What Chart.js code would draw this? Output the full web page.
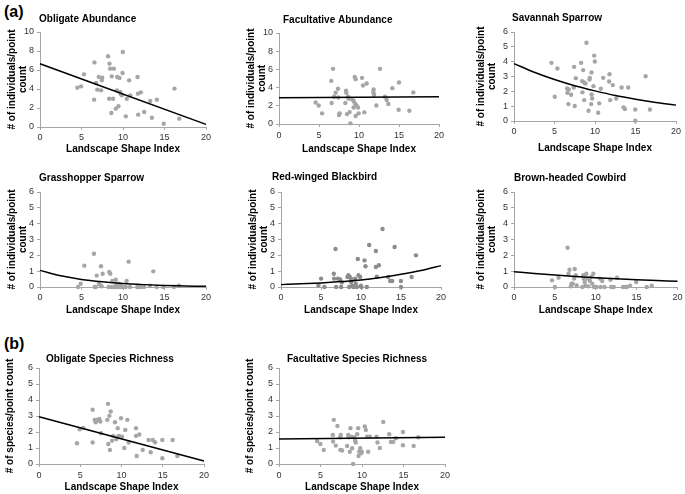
<!DOCTYPE html>
<html>
<head>
<meta charset="utf-8">
<script src="https://cdn.jsdelivr.net/npm/chart.js@4.4.1/dist/chart.umd.min.js"></script>
<style>
  body { margin: 0; background: #fff; }
  #wrap { position: relative; width: 685px; height: 494px; overflow: hidden; font-family: "Liberation Sans", Arial, sans-serif; }
  .panel { position: absolute; }
  .tag { position: absolute; font-weight: bold; font-size: 16px; line-height: 16px; }
</style>
</head>
<body>
<div id="wrap">
  <div class="tag" style="left:4px;top:4px">(a)</div>
  <div class="tag" style="left:4px;top:336px">(b)</div>
</div>
<script>
// landscape shape index (x) and counts (y)
const oblAbundX = [4.5,4.95,5.3,6.56,6.52,6.76,6.9,7.08,7.36,7.45,7.5,8.2,8.37,8.45,8.9,8.65,8.33,8.6,8.8,9.13,9.26,9.3,9.45,9.58,9.66,9.74,9.86,9.94,9.98,10.34,10.46,10.74,10.87,11.75,11.8,11.83,12.15,12.55,13.28,13.48,14.08,14.9,16.2,16.78];
const oblAbundY = [4.14,4.28,5.54,6.8,2.88,4.63,3.93,5.26,3.86,4.91,5.19,7.44,6.67,6.14,6.14,5.33,2.98,1.47,2.98,1.93,3.86,5.26,2.18,5.16,3.68,3.44,3.33,5.68,7.9,1.12,2.98,4.91,3.33,5.26,3.51,1.3,3.65,1.58,2.74,0.98,2.88,0.35,4.04,0.88];

const facAbundX = [4.58,4.96,5.38,6.54,6.75,6.58,6.88,7.08,7.38,7.42,7.5,7.58,8.38,8.42,8.29,8.5,8.63,8.71,8.83,8.92,9.17,9.33,9.33,9.46,9.58,9.5,9.67,9.58,9.88,9.96,10.38,10.5,10.67,10.96,11.83,11.79,11.88,12.17,12.63,13.25,13.46,13.67,14.17,15.0,14.96,16.29,16.79];
const facAbundY = [2.37,2.04,1.17,4.74,6.06,2.3,2.99,3.43,3.87,2.92,0.99,1.17,3.65,3.43,2.3,1.09,2.99,2.77,1.31,0.07,2.7,2.52,1.82,5.18,4.93,2.26,2.04,0.88,1.82,1.17,5.07,4.23,1.28,4.45,3.8,3.5,3.21,2.04,6.06,2.99,2.63,2.19,3.94,4.56,1.57,1.46,3.47];

const savSparrowX = [4.62,5.03,5.36,6.56,6.6,6.76,6.72,7.05,7.42,7.38,7.5,7.63,8.29,8.45,8.54,8.41,8.66,8.66,8.82,8.95,9.2,9.32,9.36,9.57,9.53,9.57,9.65,9.9,9.98,9.81,10.39,10.52,10.72,11.01,11.79,11.75,11.88,12.2,12.62,13.28,13.53,13.69,14.1,14.97,14.97,16.25,16.78];
const savSparrowY = [3.92,1.63,3.54,2.19,1.9,2.13,1.14,1.77,3.65,2.26,1.01,2.89,3.92,1.93,3.43,2.69,2.6,1.41,2.53,5.28,0.69,2.8,2.91,3.27,1.14,1.79,1.52,4.41,4.01,2.35,0.56,1.19,2.17,2.91,3.16,2.66,1.41,2.42,1.52,2.26,0.92,0.81,2.26,0.78,0.02,3.02,0.78];

const grassSparrowX = [4.58,4.9,5.34,6.5,6.6,6.7,6.83,7.1,7.3,7.35,7.43,7.55,8.27,8.35,8.47,8.63,8.71,8.84,9.04,9.12,9.24,9.32,9.48,9.64,9.72,9.88,10.04,10.32,10.44,10.68,10.84,11.73,11.85,12.13,12.53,13.25,13.65,14.06,14.86,16.14,16.75];
const grassSparrowY = [0,0.21,1.35,2.1,0,0,0.72,0.21,0.1,1.31,0.04,0.84,0,0.95,0.84,0,0.38,0,0,0.46,0.17,0,0.21,0,0.08,0,0,0,0.38,1.6,0,0,0,0,0,0.08,0.99,0,0,0,0.08];

const rwBlackbirdX = [4.68,5.01,5.43,6.6,6.81,6.64,6.89,7.1,7.39,7.52,7.6,8.31,8.43,8.52,8.6,8.73,8.89,8.77,9.06,9.27,9.35,9.48,9.6,9.69,9.9,9.98,10.06,10.44,10.56,10.73,11.02,11.86,11.86,11.98,12.23,12.69,13.4,13.65,13.9,14.2,14.99,14.99,16.33,16.87];
const rwBlackbirdY = [0.1,0.53,0,0.84,2.4,0.53,0,0.53,0.48,0,0.29,0.63,0.74,0,0.63,0.53,0.08,0.32,0,0.53,0.21,0,1.77,0.74,0.63,0.08,0,1.68,1.31,0,2.65,2.27,1.26,0.65,1.37,3.66,0.63,0.38,0.38,2.53,0.38,0,0.63,2.0];

const bhCowbirdX = [4.65,5.0,5.45,6.55,6.67,6.79,6.95,7.03,7.19,7.43,7.35,7.56,7.68,8.36,8.48,8.53,8.65,8.73,8.85,8.97,9.09,9.29,9.45,9.58,9.7,9.78,9.98,10.1,10.5,10.59,10.79,11.07,11.8,11.9,12.2,12.6,13.33,13.6,13.8,14.2,14.95,16.24,16.85];
const bhCowbirdY = [0.42,0,0.59,2.48,0.84,1.09,0.04,0.21,0.21,1.14,0.53,0.74,0.1,0,0.74,0.53,0.32,0.08,0.84,0.53,0.04,0.38,0.63,0.21,0.84,0,0,0,0.53,0,0.38,0,0.46,0,0,0.59,0,0,0,0.08,0.32,0,0.08];

const oblRichX = [4.6,4.93,5.37,6.5,6.5,6.75,6.87,7.03,7.31,7.43,7.52,8.28,8.36,8.53,8.69,8.4,8.6,8.85,9.01,9.21,9.37,9.54,9.58,9.7,9.94,10.06,10.34,10.46,10.71,10.87,11.76,11.76,11.84,12.16,12.57,13.29,13.54,13.78,14.06,14.95,14.95,16.2,16.77];
const oblRichY = [1.3,2.17,2.26,3.39,1.34,2.76,2.61,2.76,2.82,2.66,1.92,2.76,3.76,3.01,3.28,1.25,0.88,1.46,1.76,2.61,1.55,2.24,1.71,1.76,2.86,1.71,1.0,2.13,2.76,1.34,2.24,1.76,0.5,1.84,0.88,1.5,0.73,1.5,1.36,1.5,0.36,1.5,0.5];

const facRichX = [4.59,4.99,5.39,6.6,6.48,6.52,6.84,7.04,7.36,7.44,7.4,7.6,8.21,8.33,8.41,8.53,8.61,8.69,8.81,8.93,9.05,9.17,9.25,9.42,9.54,9.58,9.66,9.78,9.9,9.98,10.34,10.46,10.62,10.74,10.95,11.75,11.87,12.15,12.56,13.28,13.48,13.76,14.08,14.93,14.93,16.22,16.78];
const facRichY = [1.44,1.25,0.88,2.76,1.82,1.4,1.15,2.38,1.67,1.82,0.88,0.84,1.13,1.82,1.67,0.77,2.24,1.71,0.98,0,1.67,1.46,1.34,1.86,2.24,0.5,0.77,0.98,0.67,0.77,2.34,2.13,1.71,0.77,1.71,1.71,1.34,1.0,2.63,1.86,1.38,1.38,1.61,2.0,1.17,1.13,1.67];

// fitted trend lines
const lineX = [0, 20];
const oblAbundFit = [6.65, 0.28];
const facAbundFit = [2.88, 3.0];
const oblRichFit = [2.95, 0.19];
const facRichFit = [1.57, 1.67];

const curveX = [0, 2.5, 5, 7.5, 10, 12.5, 15, 17.5, 20];
const savSparrowFit = [3.87, 3.29, 2.8, 2.38, 2.03, 1.72, 1.47, 1.25, 1.07];
const grassSparrowFit = [1.05, 0.71, 0.48, 0.33, 0.22, 0.15, 0.10, 0.07, 0.04];
const rwBlackbirdFit = [0.15, 0.2, 0.26, 0.34, 0.44, 0.6, 0.8, 1.04, 1.35];
const bhCowbirdFit = [0.97, 0.86, 0.76, 0.67, 0.59, 0.52, 0.46, 0.41, 0.36];

const xTitle = 'Landscape Shape Index';
const indivTitle = ['# of individuals/point', 'count'];
const speciesTitle = '# of species/point count';

const FONT = '"Liberation Sans", Arial, sans-serif';
const grey = '#a6a6a6';
const darkGrey = '#8c8c8c';
const axisGrey = '#a6a6a6';

const panels = [
  { left: 0, top: 0, width: 215, height: 160, yAxisW: 40, xAxisH: 33, padTop: 32, padRight: 9,
    title: 'Obligate Abundance', titleDx: -1, titleY: 19, yTitle: indivTitle, yTitlePad: 7,
    yMax: 10, yStep: 2, xTickPad: 2.5, xTitlePad: 5.5,
    xs: oblAbundX, ys: oblAbundY, fitX: lineX, fitY: oblAbundFit, dot: grey },
  { left: 239, top: 0, width: 209, height: 160, yAxisW: 40, xAxisH: 36, padTop: 33, padRight: 9,
    title: 'Facultative Abundance', titleDx: 4, titleY: 20, yTitle: indivTitle, yTitlePad: 7,
    yMax: 10, yStep: 2, xTickPad: 3.5, xTitlePad: 5.5,
    xs: facAbundX, ys: facAbundY, fitX: lineX, fitY: facAbundFit, dot: grey },
  { left: 470, top: 0, width: 215, height: 160, yAxisW: 44, xAxisH: 39, padTop: 32, padRight: 9,
    title: 'Savannah Sparrow', titleDx: -2, titleY: 18, yTitle: indivTitle, yTitlePad: 6,
    yMax: 6, yStep: 1, xTickPad: 2.5, xTitlePad: 6.5,
    xs: savSparrowX, ys: savSparrowY, fitX: curveX, fitY: savSparrowFit, dot: grey },
  { left: 0, top: 160, width: 215, height: 160, yAxisW: 40, xAxisH: 33, padTop: 32, padRight: 9,
    title: 'Grasshopper Sparrow', titleDx: -1, titleY: 18, yTitle: indivTitle, yTitlePad: 7,
    yMax: 6, yStep: 1, xTickPad: 2.5, xTitlePad: 4.5,
    xs: grassSparrowX, ys: grassSparrowY, fitX: curveX, fitY: grassSparrowFit, dot: grey },
  { left: 241, top: 160, width: 209, height: 160, yAxisW: 40, xAxisH: 33, padTop: 32, padRight: 9,
    title: 'Red-winged Blackbird', titleDx: -9, titleY: 17, yTitle: indivTitle, yTitlePad: 7,
    yMax: 6, yStep: 1, xTickPad: 2.5, xTitlePad: 4.5,
    xs: rwBlackbirdX, ys: rwBlackbirdY, fitX: curveX, fitY: rwBlackbirdFit, dot: darkGrey },
  { left: 470, top: 160, width: 215, height: 160, yAxisW: 44, xAxisH: 33, padTop: 32, padRight: 6,
    title: 'Brown-headed Cowbird', titleDx: 0, titleY: 18, yTitle: indivTitle, yTitlePad: 6,
    yMax: 6, yStep: 1, xTickPad: 2.5, xTitlePad: 4.5,
    xs: bhCowbirdX, ys: bhCowbirdY, fitX: curveX, fitY: bhCowbirdFit, dot: grey },
  { left: 0, top: 320, width: 213, height: 174, yAxisW: 39, xAxisH: 30, padTop: 48, padRight: 9,
    title: 'Obligate Species Richness', titleDx: 7, titleY: 39, yTitle: speciesTitle, yTitlePad: 4.5,
    yMax: 6, yStep: 1, xTickPad: 3.5, xTitlePad: 1.5,
    xs: oblRichX, ys: oblRichY, fitX: lineX, fitY: oblRichFit, dot: grey },
  { left: 240, top: 320, width: 214, height: 174, yAxisW: 39, xAxisH: 30, padTop: 48, padRight: 9,
    title: 'Facultative Species Richness', titleDx: 8, titleY: 39, yTitle: speciesTitle, yTitlePad: 4.5,
    yMax: 6, yStep: 1, xTickPad: 3.5, xTitlePad: 1.5,
    xs: facRichX, ys: facRichY, fitX: lineX, fitY: facRichFit, dot: grey }
];

// small bold title drawn near the top left of each plot
const panelTitle = {
  id: 'panelTitle',
  afterDraw(chart, args, opts) {
    const ctx = chart.ctx;
    ctx.save();
    ctx.font = 'bold 10px ' + FONT;
    ctx.fillStyle = '#000';
    ctx.textBaseline = 'middle';
    ctx.textAlign = 'left';
    ctx.fillText(opts.text, chart.chartArea.left + opts.dx, opts.y);
    ctx.restore();
  }
};

const wrap = document.getElementById('wrap');

panels.forEach(function(p) {
  const div = document.createElement('div');
  div.className = 'panel';
  div.style.left = p.left + 'px';
  div.style.top = p.top + 'px';
  const canvas = document.createElement('canvas');
  canvas.width = p.width;
  canvas.height = p.height;
  div.appendChild(canvas);
  wrap.appendChild(div);

  const points = p.xs.map((x, i) => ({ x: x, y: p.ys[i] }));
  const fit = p.fitX.map((x, i) => ({ x: x, y: p.fitY[i] }));

  new Chart(canvas, {
    type: 'scatter',
    data: {
      datasets: [
        {
          data: fit,
          showLine: true,
          borderColor: '#000',
          borderWidth: 1.5,
          pointRadius: 0,
          cubicInterpolationMode: 'monotone',
          clip: false
        },
        {
          data: points,
          pointRadius: 2.2,
          pointBorderWidth: 0,
          pointBackgroundColor: p.dot,
          clip: false
        }
      ]
    },
    options: {
      responsive: false,
      animation: false,
      devicePixelRatio: 1,
      events: [],
      layout: { padding: { top: p.padTop, right: p.padRight, left: 0, bottom: 0 } },
      plugins: {
        legend: { display: false },
        tooltip: { enabled: false },
        panelTitle: { text: p.title, dx: p.titleDx, y: p.titleY }
      },
      scales: {
        x: {
          type: 'linear',
          min: 0,
          max: 20,
          afterFit: function(scale) { scale.height = p.xAxisH; },
          ticks: { stepSize: 5, autoSkip: false, maxRotation: 0, padding: p.xTickPad, color: '#333', font: { family: FONT, size: 9 } },
          grid: { drawOnChartArea: false, tickLength: 3, color: axisGrey },
          border: { color: axisGrey, width: 1 },
          title: { display: true, text: xTitle, color: '#000', font: { family: FONT, size: 10, weight: 'bold', lineHeight: 1.1 }, padding: { top: 0, bottom: p.xTitlePad } }
        },
        y: {
          min: 0,
          max: p.yMax,
          afterFit: function(scale) { scale.width = p.yAxisW; },
          ticks: { stepSize: p.yStep, autoSkip: false, padding: 3, color: '#333', font: { family: FONT, size: 9 } },
          grid: { drawOnChartArea: false, tickLength: 3, color: axisGrey },
          border: { color: axisGrey, width: 1 },
          title: { display: true, text: p.yTitle, color: '#000', font: { family: FONT, size: 10, weight: 'bold', lineHeight: 1.1 }, padding: { top: p.yTitlePad, bottom: 0 } }
        }
      }
    },
    plugins: [panelTitle]
  });
});
</script>
</body>
</html>
